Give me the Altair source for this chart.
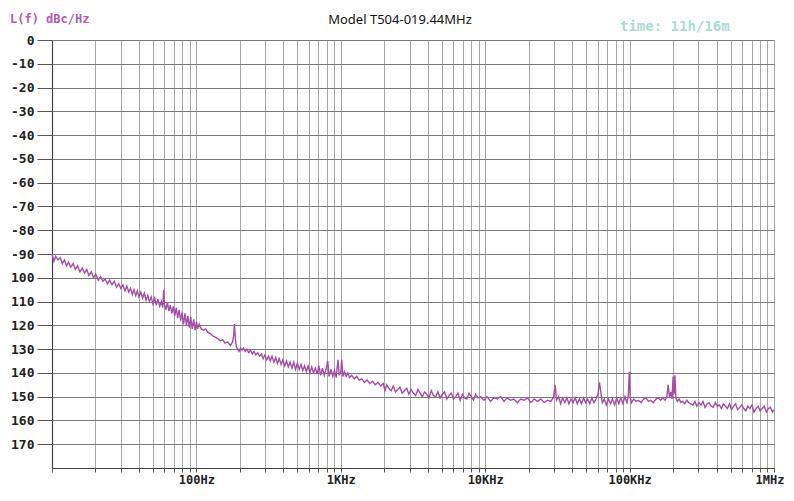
import altair as alt
import pandas as pd

# ---- trace values, by frequency band ----
band1_freq = [10, 10.3, 10.6, 11, 11.4, 11.8, 12.2, 12.6, 13, 13.5, 14, 14.5, 15, 15.6, 16.2, 16.8,
              17.4, 18, 18.7, 19.4, 20.1, 20.9, 21.7, 22.5, 23.3, 24.2, 25.1, 26, 27, 28, 29, 30]
band1_level = [-90, -93, -91, -92.5, -91.5, -94, -92.5, -95, -93.5, -95.5, -94, -96.5, -95, -97.5, -96, -98,
               -96.5, -99, -97.5, -100, -98.5, -101, -99.5, -101.5, -100.5, -102.5, -101, -103, -101.5, -104, -102.5, -104.5]

band2_freq = [31, 32, 33, 34, 35, 36, 37, 38, 39, 40, 41.2, 42.4, 43.6, 44.8, 46, 47.3, 48.6, 50,
              51.4, 52.8, 54.2, 55.7, 57.2, 58.5, 59.3, 60, 61.5, 63, 64.5, 66, 67.6, 69.2, 70.8,
              72.5, 74.2, 76, 77.8, 79.6, 81.5, 83.4, 85.3, 87.3, 89.3, 91.4, 93.5, 95.7, 97.9,
              100, 102, 104.5]
band2_level = [-103, -105.5, -103.5, -106, -104.5, -107, -105, -107.5, -105.5, -108, -106, -108.5, -106.5, -109.5, -107.5, -110, -108, -111,
               -108.5, -111.5, -109, -112, -110, -112.5, -105, -111, -113.5, -110.5, -114, -111.5, -115, -112, -116,
               -112.5, -117, -113.5, -118, -114.5, -119.5, -115, -120, -116, -121, -116.5, -121.5, -117.5, -122,
               -118.5, -121.5, -119.5]

band3_freq = [108, 112, 116, 120, 125, 130, 135, 140, 146, 152, 158, 165, 172, 178, 181, 183.5, 186,
              189, 193, 197, 202, 207, 212, 218, 224, 230, 237, 244, 251, 258, 266, 274, 282, 290, 298]
band3_level = [-121.5, -122, -121.5, -123, -123.5, -124.5, -125, -125.5, -126.5, -126, -127.5, -127, -128.5, -127, -124.5, -119.5, -125.5,
               -129, -130, -131, -129.5, -130.5, -129.5, -131, -130, -131.5, -130.5, -132, -131, -132.5, -131.5, -133, -132, -134, -132.5]

band4_freq = [307, 316, 325, 334, 344, 354, 364, 375, 386, 397, 409, 421, 433, 446, 459, 472, 486, 500,
              515, 530, 545, 561, 577, 594, 611, 629, 647, 666, 685, 705, 725, 746, 768, 790, 812,
              830, 855, 880, 905, 930, 955, 975, 1000, 1015, 1035, 1060, 1090, 1120, 1150]
band4_level = [-134.5, -133, -135, -133, -135.5, -133.5, -136, -134, -136.5, -134.5, -137, -135, -137.5, -135.5, -138, -135.5, -138.5, -136,
               -138.5, -136.5, -139, -137, -139.5, -137, -140, -137.5, -140, -138, -140.5, -137, -141, -138, -141, -138.5, -135,
               -141.5, -138.5, -141.5, -139, -142, -134.5, -141, -139.5, -134.5, -141.5, -139.5, -141.5, -140, -142]

band5_freq = [1190, 1240, 1290, 1340, 1400, 1460, 1520, 1590, 1660, 1730, 1810, 1890, 1970]
band5_level = [-141, -142.5, -141.5, -143, -142.5, -144, -143, -144.5, -143.5, -145, -144, -145.5, -144.5]

band6_freq = [2020, 2080, 2150, 2230, 2310, 2390, 2480, 2570, 2660, 2760, 2860, 2960, 3070, 3180, 3300,
              3420, 3540, 3670, 3800, 3940, 4080, 4230, 4380, 4540, 4700, 4870, 5050, 5230, 5420, 5620,
              5820, 6030, 6250, 6470, 6710, 6950, 7200, 7460, 7730, 8010, 8300, 8600, 8900]
band6_level = [-147.5, -145, -146.5, -147.5, -145.5, -148, -147, -146, -148.5, -147.5,
               -146.5, -149, -147, -148.5, -149.5, -147, -148.5, -150, -148, -149,
               -150.5, -147.5, -149.5, -150, -148, -150.5, -149, -148, -151, -149.5,
               -148.5, -151, -150, -148.5, -151.5, -149, -150.5, -151, -148.5, -150,
               -151.5, -149, -150.5]

band7_freq = [9300, 9800, 10300, 10900, 11500, 12100, 12800, 13500, 14200, 15000, 15800, 16700, 17600,
              18600, 19600, 20700, 21800, 23000, 24300, 25600, 27000, 28500]
band7_level = [-150, -151.5, -150, -152, -150.5, -151, -150, -152, -150.5, -151.5, -151, -152.5, -151,
               -151.5, -150.5, -152.5, -151, -152, -151, -152.5, -151.5, -152]

band8_freq = [29800, 30500, 31200, 32200, 33300, 34400, 35600, 36800, 38000, 39300, 40600, 42000, 43400,
              44900, 46400, 48000, 49600, 51300, 53000, 54800, 56600, 58500, 60400, 61800, 63200, 64700,
              66800, 69000, 71300, 73700, 76200, 78800, 81400, 84100, 86900, 89800, 92800, 95900, 98000,
              99500, 101000, 103000]
band8_level = [-150, -145, -151.5, -150, -153, -150.5, -152.5, -150.5, -153, -151, -152.5, -150.5, -153,
               -151, -153, -150.5, -152.5, -151, -153, -150.5, -152.5, -151, -149, -144, -148, -152.5,
               -151, -153.5, -151, -153, -151, -153.5, -150.5, -153, -150.5, -153, -150, -152.5, -149.5,
               -139.5, -150, -152.5]

band9_freq = [107000, 111000, 115000, 120000, 125000, 130000, 135000, 140000, 146000, 152000, 158000,
              164000, 170000, 176000, 181000, 185000, 189000, 193000, 197000, 200000, 203000, 206000,
              209000, 214000]
band9_level = [-151, -152, -151.5, -152.5, -151, -150.5, -152, -151.5, -152.5, -151, -150.5,
               -151.5, -150.5, -151.5, -150, -145, -150.5, -148, -151, -141.5, -149, -141,
               -150.5, -152]

band10_freq = [220000, 227000, 234000, 241000, 249000, 257000, 265000, 274000, 283000, 292000, 302000,
               312000, 322000, 333000, 344000, 355000, 367000, 379000, 392000, 405000, 418000, 432000,
               446000, 461000, 476000, 492000, 508000, 525000, 542000, 560000, 579000, 598000, 618000,
               638000, 659000, 681000, 704000, 727000, 751000, 776000, 802000, 829000, 856000, 885000,
               914000, 944000, 975000, 1000000]
band10_level = [-151, -152.5, -152, -153, -151.5, -152.5, -153, -153.5, -152, -154,
                -152.5, -153.5, -152, -154.5, -153, -152.5, -154, -154.5, -152.5, -154,
                -153.5, -155, -153, -154, -155, -153, -155.5, -154, -153, -155.5,
                -154.5, -153.5, -155, -156, -154, -155, -153.5, -156.5, -155, -154,
                -156, -155, -154, -156.5, -155, -154.5, -156.5, -155.5]

x_tick_values = [
    10, 20, 30, 40, 50, 60, 70, 80, 90,
    100, 200, 300, 400, 500, 600, 700, 800, 900,
    1000, 2000, 3000, 4000, 5000, 6000, 7000, 8000, 9000,
    10000, 20000, 30000, 40000, 50000, 60000, 70000, 80000, 90000,
    100000, 200000, 300000, 400000, 500000, 600000, 700000, 800000, 900000,
    1000000,
]
x_label_values = [100, 1000, 10000, 100000, 1000000]
x_label_texts = ["100Hz", "1KHz", "10KHz", "100KHz", "1MHz"]

y_tick_values = [0, -10, -20, -30, -40, -50, -60, -70, -80, -90,
                 -100, -110, -120, -130, -140, -150, -160, -170]
y_tick_labels = ["0", "-10", "-20", "-30", "-40", "-50", "-60", "-70", "-80", "-90",
                 "100", "110", "120", "130", "140", "150", "160", "170"]

title_text = "Model T504-019.44MHz"
unit_text = "L(f)  dBc/Hz"
time_text = "time: 11h/16m"

bands = [
    (band1_freq, band1_level), (band2_freq, band2_level), (band3_freq, band3_level),
    (band4_freq, band4_level), (band5_freq, band5_level), (band6_freq, band6_level),
    (band7_freq, band7_level), (band8_freq, band8_level), (band9_freq, band9_level),
    (band10_freq, band10_level),
]
freq_hz, level_dbc = [], []
for i, (f, l) in enumerate(bands):
    assert len(f) == len(l), f"band {i + 1}: {len(f)} vs {len(l)}"
    freq_hz += f
    level_dbc += l

df = pd.DataFrame({"freq": freq_hz, "level": level_dbc, "order": list(range(len(freq_hz)))})

x_expr = "".join(
    f"datum.value == {v} ? '{t}' : " for v, t in zip(x_label_values, x_label_texts)
) + "''"
y_expr = "".join(
    f"datum.value == {v} ? '{t}' : " for v, t in zip(y_tick_values, y_tick_labels)
) + "''"

mono = "DejaVu Sans Mono"

x_enc = alt.X(
    "freq:Q",
    scale=alt.Scale(type="log", domain=[10, 1000000], nice=False),
    axis=alt.Axis(
        values=x_tick_values, labelExpr=x_expr, title=None,
        grid=True, gridColor="#a6a6a6", gridWidth=1,
        tickSize=4, tickColor="#555", domainColor="#444", domainWidth=1.2,
        labelFont=mono, labelFontWeight="bold", labelFontSize=12, labelColor="#222",
        labelOverlap=False, labelFlush=True, labelFlushOffset=10, labelBound=False,
        labelPadding=2,
    ),
)
y_enc = alt.Y(
    "level:Q",
    scale=alt.Scale(domain=[-180, 0], nice=False),
    axis=alt.Axis(
        values=y_tick_values, labelExpr=y_expr, title=None,
        grid=True, gridColor="#7a7a7a", gridWidth=1,
        tickSize=15, tickColor="#555", domainColor="#444", domainWidth=1.2,
        labelFont=mono, labelFontWeight="bold", labelFontSize=13, labelColor="#222",
        labelOverlap=False, labelPadding=3,
    ),
)

line = alt.Chart(df).mark_line(color="#a64ca8", strokeWidth=1.4).encode(
    x=x_enc, y=y_enc, order="order:Q"
)

title = alt.Chart(pd.DataFrame({"t": [title_text]})).mark_text(
    font="Noto Sans", fontSize=13, color="#111", align="center", baseline="middle"
).encode(text="t:N", x=alt.value(348), y=alt.value(-20))

unit = alt.Chart(pd.DataFrame({"t": [unit_text]})).mark_text(
    font=mono, fontWeight="bold", fontSize=12, color="#b05cb6", align="left", baseline="middle"
).encode(text="t:N", x=alt.value(-42), y=alt.value(-21))

timer = alt.Chart(pd.DataFrame({"t": [time_text]})).mark_text(
    font=mono, fontWeight="bold", fontSize=14, color="#a8dcd8", align="left", baseline="middle"
).encode(text="t:N", x=alt.value(568), y=alt.value(-13))

chart = alt.layer(line, title, unit, timer).properties(
    width=722, height=428,
    autosize=alt.AutoSizeParams(type="none"),
    padding={"left": 44, "top": 32, "right": 12, "bottom": 20},
).configure_view(stroke=None).configure(background="white")

chart.save("out.html", embed_options={"renderer": "svg", "actions": False})
